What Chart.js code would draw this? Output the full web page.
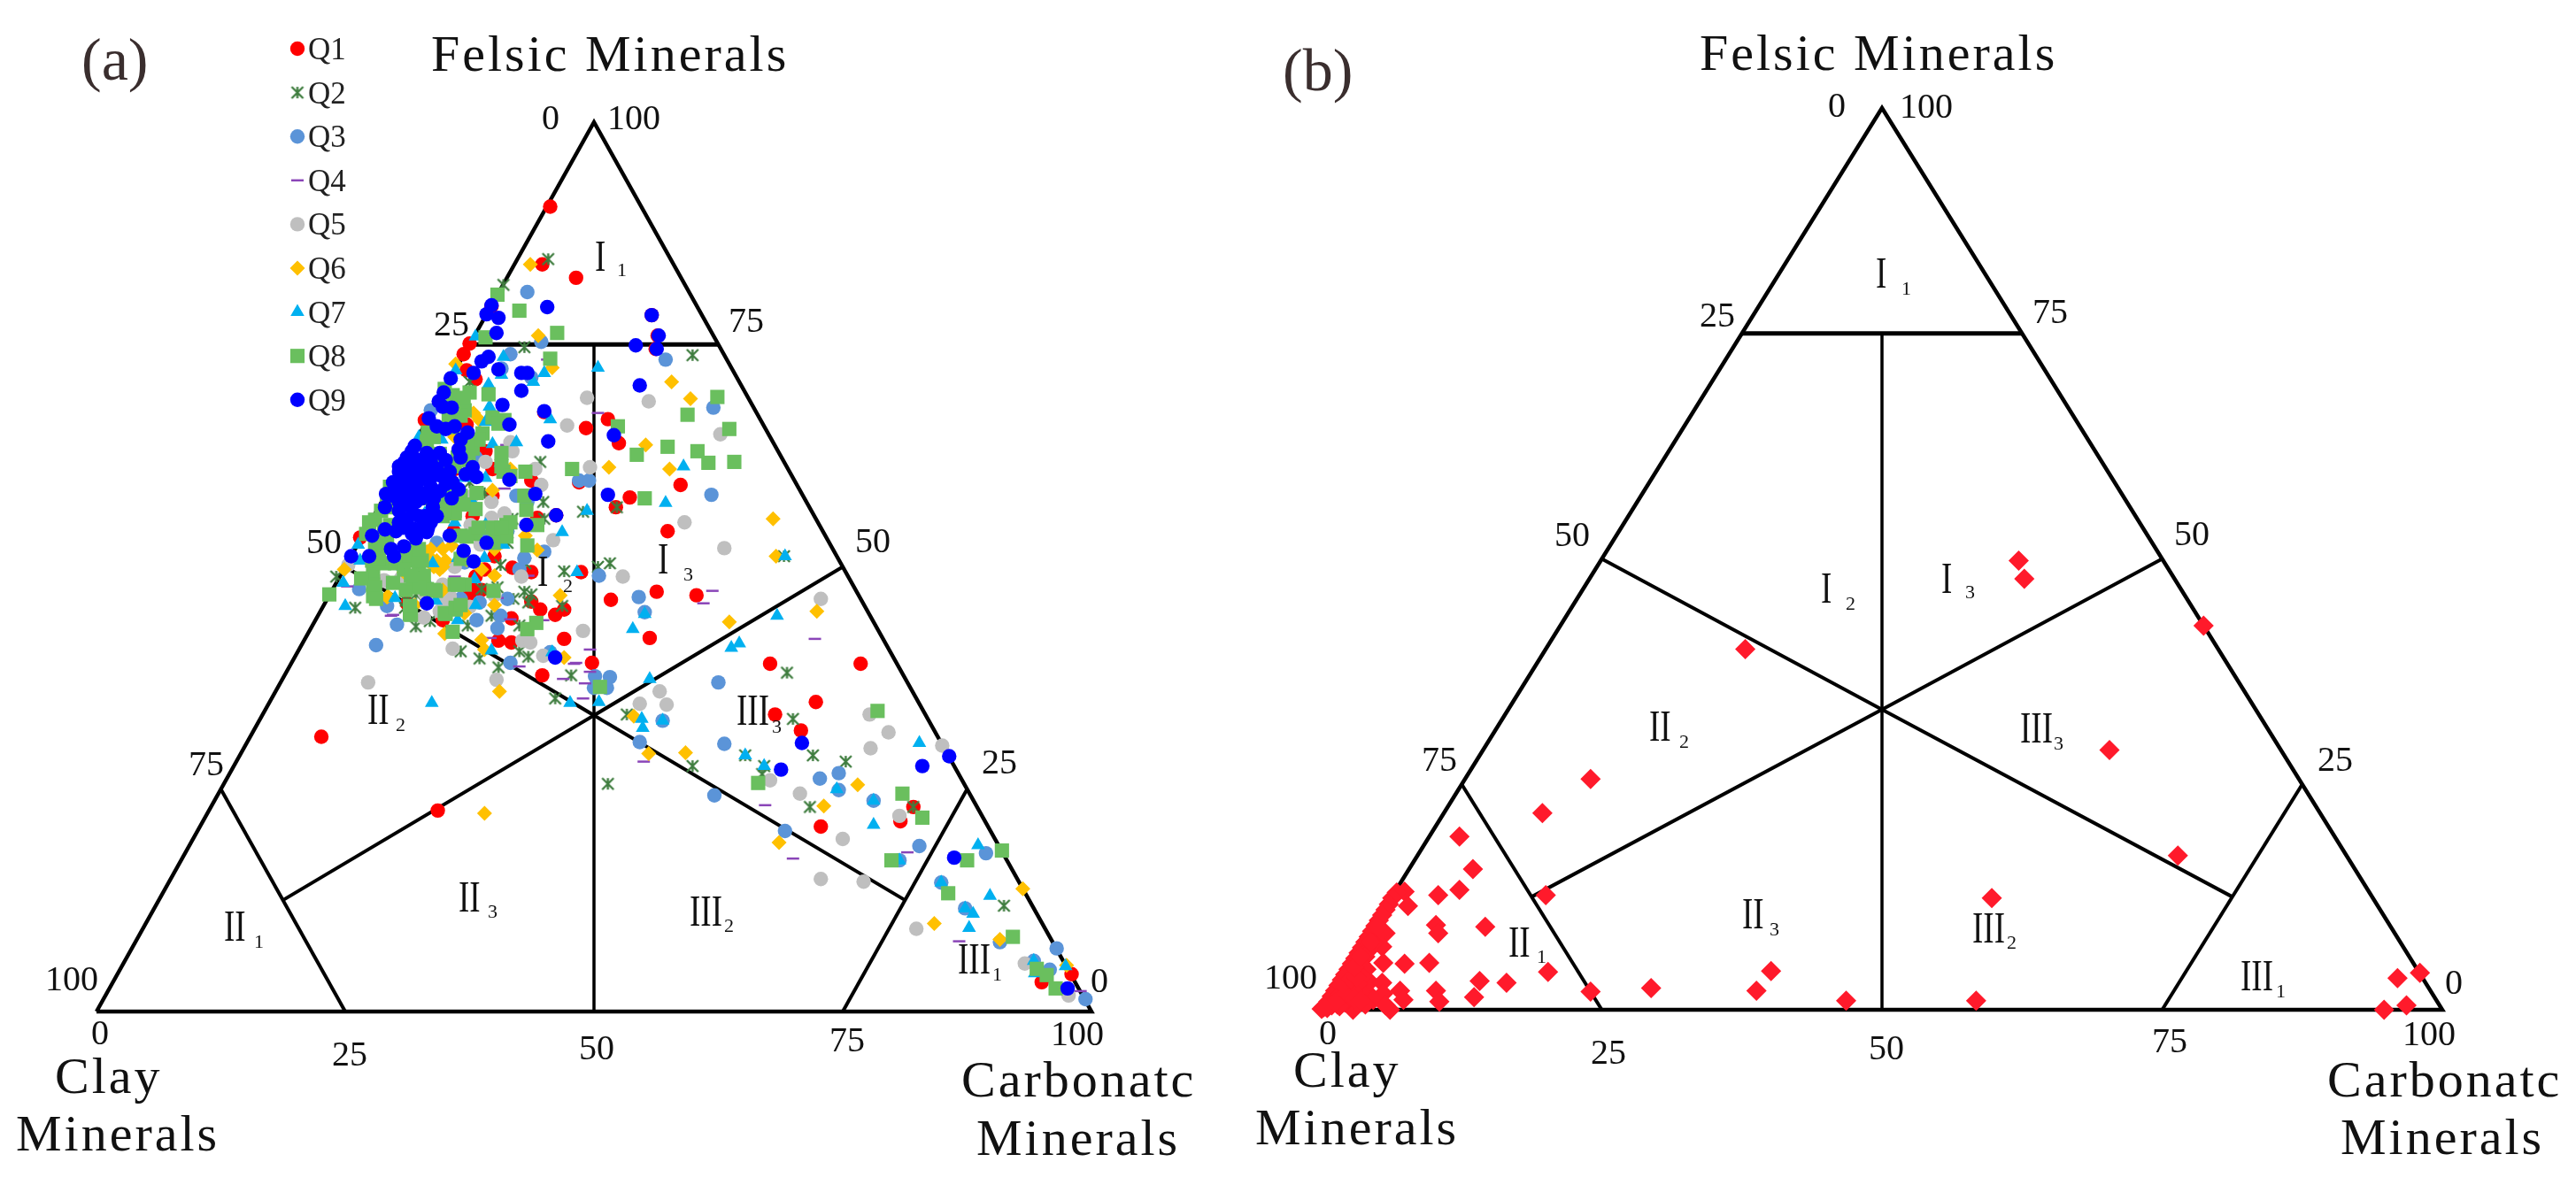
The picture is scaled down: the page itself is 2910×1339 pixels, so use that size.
<!DOCTYPE html>
<html>
<head>
<meta charset="utf-8">
<title>Ternary diagrams</title>
<script src="https://cdn.jsdelivr.net/npm/chart.js@4"></script>
<style>
  html, body { margin: 0; padding: 0; background: #fff; overflow: hidden; }
  canvas { position: absolute; left: 0; top: 0; }
</style>
</head>
<body>
<canvas id="chart-a" width="2910" height="1339"></canvas>
<canvas id="chart-b" width="2910" height="1339"></canvas>
<script>
// Ternary values.
// Each pair is [position along the base, felsic %], position = carbonate % + felsic % / 2
const seriesNames = ['Q1', 'Q2', 'Q3', 'Q4', 'Q5', 'Q6', 'Q7', 'Q8', 'Q9'];

const q1 = [[45.6,90.5],[44.8,84],[48.2,82.5],[39.7,79.3],[55.8,78.3],[56.4,76],[56.2,74.5],[37.5,75.1],[36.9,73.9],[37.2,72.1],[38.1,71.1],[45,67.4],[49.2,65.6],[51.4,66.6],[52.5,63.9],[53.6,57.8],[52.2,56.7],[48.5,59.5],[58.7,59.2],[57.4,54],[56.3,47.2],[51.7,46.3],[60.3,46.8],[48.7,49.4],[46.2,55.8],[44.3,55.5],[43.3,54.7],[43.7,59.7],[39.8,61],[39.1,63],[37.2,66],[41.8,49.9],[43.7,49.4],[43.7,46.1],[44.6,45.2],[46.1,44.6],[47,45.2],[38.1,48.9],[37.8,47.4],[31.2,45.9],[26.5,53.3],[37.8,55.7],[39.8,58],[35.9,54],[39,49.7],[36,61],[33,66.5],[22.6,30.9],[47,41.9],[49.8,39.2],[44.8,37.8],[40.4,41.7],[41.7,41.5],[41.7,44.2],[40,51.2],[34.8,44],[38.7,47.4],[37.5,47],[34.3,22.6],[55.6,42],[67.7,39.1],[76.8,39.1],[72.3,34.8],[68.2,33.4],[70.8,31.6],[82.1,23],[80.8,21.4],[72.8,20.8],[98,4.2],[95,3.3]];

const q2 = [[45.4,84.6],[40.9,81.7],[43,74.7],[59.9,73.8],[37.5,70.8],[44.6,61.8],[44.9,57.3],[48.9,56.2],[45,55.4],[50.4,50],[51.6,50.4],[47,49.5],[41.8,55.4],[40.6,50.2],[40.3,47.7],[38.7,47.5],[43,47.2],[41.9,46.4],[43.7,46.9],[46.8,45.6],[26,45.4],[24.1,48.9],[32.1,46.9],[31.1,46.2],[52.3,56.7],[37.5,59.5],[39,58.3],[41.3,52.7],[43.1,50.4],[33.5,43.9],[32.1,43.3],[37.3,43.4],[39.7,44.5],[42.5,43.4],[43.4,46],[36.6,40.5],[38.5,39.7],[40.4,38.7],[42.5,40.5],[43.4,39.9],[46.1,35.2],[47.7,37.8],[51.4,25.6],[53.3,33.4],[31,45.4],[69.4,38.1],[70,32.9],[72,28.8],[75.3,28.1],[65.2,28.8],[67.1,27.6],[69.1,51.2],[66.9,26.7],[59.9,27.6],[71.7,23],[82.1,23],[91.2,11.9]];

const q3 = [[43.3,80.9],[44.7,75.3],[41.6,73.9],[40.7,72.3],[43.7,71.3],[57.2,73.3],[62,67.9],[48.5,59.7],[49.5,59.7],[43.3,57.3],[42.2,58],[45,51.7],[41.3,54],[42.5,49.7],[50.5,49],[54.5,46.6],[55.1,44.9],[41.3,46.4],[29.2,45.6],[26.4,47.5],[37.8,63],[33.6,67.6],[38.1,62.3],[39.5,53.5],[37,50.5],[33,48],[38.5,46],[43,51],[61.8,58.1],[30.2,43.5],[28.1,41.2],[38.2,44],[40.6,44.5],[40.3,43.1],[41.6,39.2],[50.1,37.7],[51.6,37.6],[50,36.4],[51.3,36.4],[45.6,40.4],[36.6,46.4],[34.2,52.7],[62.5,37],[54.6,30.3],[56.9,32.7],[63.1,30.1],[62.1,24.3],[69.2,20.3],[72.7,26.2],[74.6,26.8],[74.6,24.9],[78.1,23.7],[82.7,18.6],[80.7,17],[89.4,17.8],[84.9,14.5],[87.3,11.6],[90.8,7.8],[96.5,7.1],[94.2,5.7],[95.8,4.7],[99.4,1.4]];

const q4 = [[61.9,47.3],[61,45.9],[72.2,41.9],[49.6,40.7],[48,39.1],[49.6,38.2],[46.9,37.4],[49.1,36.9],[48.9,35.2],[55,28.1],[67.2,23.2],[70,17.2],[81.5,17.9],[86.7,7.9],[98.9,2.3],[50.4,67.3],[45.3,73.3],[41.2,63.7],[43.4,49],[40.3,46.5],[29.8,44.6],[41,58.8],[32.1,47.7],[41.6,44.1],[44.9,44],[39.6,42],[42.5,38.8],[48.2,39.2],[29.6,44.5],[25.2,47.8],[36,48.9]];

const q5 = [[49.3,69],[55.5,68.6],[47.3,65.9],[41.6,64],[39.1,61.8],[44.1,61],[49.6,61.2],[44.7,59.2],[39.7,57.3],[39.7,55.5],[37.6,54.7],[45.9,53],[59.1,55],[52.9,48.9],[42.7,48.9],[36,50],[37.8,58],[41.8,63],[35.5,46.7],[28.9,48.5],[25.3,50.2],[32.9,44.3],[34.8,48],[35.4,47.7],[34.8,46.1],[30.6,48.7],[41,56],[38.6,52.5],[33,47],[40,46.8],[62.7,64.9],[63.1,52.1],[72.8,46.4],[35.8,40.8],[42.8,41.7],[43.6,41.5],[44.9,40],[40.2,37.3],[48.9,42.8],[27.3,37],[37.5,45.5],[34.5,45],[29,48.4],[56.6,36],[54.6,34.6],[57.3,34.5],[77.7,33.4],[79.6,31.4],[77.8,29.6],[85,29.9],[67.7,26],[70.7,24.5],[80.7,22],[75,19.4],[72.8,14.9],[77.1,14.6],[82.4,9.3],[93.3,5.4],[97.7,1.8]];

const q6 = [[44.4,76],[45.8,72.4],[57.8,70.8],[59.7,68.9],[37.9,67.3],[38.5,66.5],[36.1,72.8],[55.2,63.7],[51.5,61.2],[57.6,61],[36,64.6],[41.6,61],[39.8,58.6],[43.1,53.5],[44.3,51.9],[40,49],[38.7,49.7],[46.6,46.8],[40,45.7],[24.9,49.7],[34.8,47.4],[29.3,46.7],[33.6,52],[34.2,50.7],[34.8,50],[30.9,49.4],[35.2,59.3],[35.1,50.7],[35.7,52.4],[33.6,51],[34.5,49.7],[34.8,52],[33.2,51.7],[33.9,50],[37.2,50.8],[40,52],[37,44.8],[32,45.7],[43.6,84],[68,55.4],[68.3,51.2],[72.4,45],[40.5,36],[47,39.8],[38.7,41.8],[39,40.7],[35,42.5],[29.2,46.6],[39,22.3],[63.6,43.8],[54,33.2],[55.5,29],[59.2,29.1],[73.1,23.1],[76.5,25.5],[68.6,19],[93.1,13.8],[84.2,9.9],[90.8,8.1],[97.5,5.2]];

const q7 = [[38.1,75.9],[40.9,73.6],[50.4,72.4],[40.7,71.6],[45,71.8],[43.9,70.8],[36.1,72.1],[39.4,70.5],[39.5,68],[45.6,66.6],[39.1,66.3],[42.2,64],[39.8,63.8],[40.6,61.7],[59,61.3],[49.3,56.3],[57.2,57.2],[46.8,53.9],[39.1,60],[37.8,57.3],[39.1,54.7],[40.9,52.5],[39,51],[36.3,51],[33.8,50.4],[30.8,50],[48.3,49.4],[25,45.6],[24.8,48.2],[26.5,50.7],[26.3,52.5],[38.1,45.7],[34.1,46.2],[55.1,44.7],[34.7,64.3],[32.4,64.6],[37.2,65],[36,55],[33,56],[37,60],[38,48.6],[30,46.5],[69.2,51.2],[68.4,44.5],[33.7,34.7],[39.7,40.6],[36.3,44],[45.8,40.4],[53.9,43],[63.8,40.9],[64.6,41.4],[55.6,37.4],[50.5,34.8],[47.6,34.7],[54.8,32.9],[54.9,31.9],[56.9,32.7],[65.2,28.8],[67.1,27.6],[74.4,25],[82.7,30.2],[78.1,23.7],[78.1,21],[88.6,18.7],[84.9,14.5],[89.8,13],[87.3,11.6],[88.1,11],[87.7,9.4],[94.2,5.7],[97.4,5.1],[94.3,4.3],[80.7,17]];

const q8 = [[40.3,80.6],[42.5,78.8],[46.3,76.3],[39.1,75.8],[45.6,73.4],[39.4,69.4],[37.5,69.6],[35.8,69.3],[35,70],[37,67.6],[59.4,67.1],[39.8,66.8],[41,66.5],[40.4,66.1],[52.4,65.8],[33.3,65.1],[38.8,65],[33.2,64.1],[37.8,63.6],[40.7,62.8],[54.3,62.6],[57.4,63.5],[60.4,63],[61.5,61.7],[43.1,60.7],[40.9,60.7],[47.8,61],[34.1,61.5],[36.3,62.3],[43,58],[38.1,56.5],[35.5,57.3],[36,56],[33.3,57.7],[55.1,57.7],[44.3,54.7],[41.2,54.7],[40.1,53.7],[38.1,53.7],[36.6,53.5],[43.3,52.4],[28,55.3],[28.9,54],[29.5,56.7],[28.7,52.7],[28.4,51.4],[31.2,52],[31.8,50.7],[32.4,49.4],[32.9,49],[31.1,47.4],[29.8,48.2],[27.8,49.4],[27.8,48],[27.8,46.7],[26.6,48.7],[23.4,46.9],[33.2,47.5],[36,48],[37,48],[36.1,45.2],[35.1,44.7],[31.5,44.7],[30.4,56.7],[30.1,57.7],[36,57.7],[34.5,61.3],[30.9,51],[33,55],[34.8,57.7],[29.5,54.7],[62.4,69.1],[63.6,65.5],[64.1,61.8],[31.6,44.6],[35.8,42.7],[35,44.8],[36.1,45.4],[43.3,43],[44.2,43.7],[50.6,36.5],[78.5,33.8],[66.5,25.7],[81,24.5],[83,21.8],[79.9,17],[87.5,17],[91,18.1],[85.6,13.3],[92.1,8.4],[94.5,4.8],[95.5,4.1],[96.4,2.6],
  [27.4,55],[28.6,56.3],[27.1,53.7],[28,52.4],[29.2,53],[27.7,50.7],[28.9,50.4],[30,50.4],[30.9,49.7],[31.8,48.7],[32.7,50.7],[32.4,52],[34.8,55.7],[36,56.3],[36.6,58],[35.4,58.7],[36.9,57],[34.2,61],[33.6,61.6],[36,61.3],[34.5,62.7],[37.8,63.3],[38.4,64.3],[37.2,64],[36.6,67],[36.9,69],[35.4,66.6],[33.9,64.6],[29.5,59],[29.2,57.3],[37.2,53.4],[38.4,54.4],[39.8,54.4],[41.2,53.4],[41.6,55],[40.7,54.4],[40.7,61.3],[28,47.7],[28.1,46.4],[32.4,47.7],[31.5,45.6],[36.3,48],[36.6,45.7],[33.9,47.4],
  [41.6,60.2],[43.2,56.4],[38.2,58.3],[39.9,52.7],[34.9,56.4],[36.6,50.9],[31.6,49],[28.3,50.9],[34.1,47.3],[39.9,47.3],[37.4,62],[35.8,65.7]];

const q9 = [[39.7,79.4],[39.2,78.4],[40.4,78],[40.2,76.3],[45.3,79.2],[55.8,78.3],[56.5,76],[56.3,74.5],[54.2,74.9],[39.4,73.6],[38.7,73.1],[40.4,72.2],[37.9,71.8],[42.7,71.8],[43.3,71.8],[35.6,71.2],[54.6,70.4],[42.7,69.8],[34.9,69.6],[34.4,68.6],[34.8,68],[35.7,67.9],[33.4,66.7],[40.8,68.2],[45,67.5],[41.5,66],[34.2,65.8],[35.1,65.5],[36,65.8],[45.4,64.1],[52,64.8],[37.3,65.1],[36.6,64.3],[36.4,63.2],[36.6,62.3],[32,63.6],[31.7,63],[33.2,62.8],[34.5,62.8],[30.9,61.7],[31.8,61.3],[30.4,60.7],[31.2,60.3],[29.8,59.5],[32.4,59.7],[33.6,60],[34.5,60.3],[35.5,60.7],[37.8,61.2],[37.1,60.4],[38.2,60.1],[35.8,59.5],[36.4,58.7],[35.7,57.7],[34.5,58.5],[33.6,59],[31.8,58.3],[30.9,57.7],[29.1,58.2],[29,56.7],[30.4,57.3],[31.2,57],[32.1,59],[33.8,56.7],[34.2,55.7],[33.6,55],[32.4,55.7],[31.2,55.4],[30.4,55],[30.1,54],[31.8,54.3],[32.1,53.2],[33.3,54.3],[29,54.2],[27.7,53.5],[35.5,53.5],[29.6,52],[29.9,51.2],[30.9,52.3],[27.4,51.2],[25.6,51.2],[39.2,52.7],[36.9,51.8],[37.9,50.6],[44.1,58.2],[41.5,59.8],[43.2,54.7],[46.2,55.8],[33.2,45.9],[51.4,58.1],[29.8,58],[32.7,57.7],[32.4,60.7],[30.6,59.3],[31.5,59.3],[46.1,39.8],[70.9,30.2],[68.8,27.2],[83,27.6],[85.7,28.7],[86.2,17.3],[97.6,2.6],
  [31.2,62.3],[32.4,62],[33.6,61.8],[35.1,62],[30.4,61.3],[33,61],[34.2,61],[30.9,59.7],[33.3,60.3],[35.1,59.3],[30.1,58.3],[33,58.3],[31.2,58.7],[32.1,57.3],[33.9,57.7],[30.4,56.3],[31.8,56],[33,55.7],[30.8,54.4],[32.7,54.3],[31.7,53.7],[33.2,53.9]];

// panel (b), one series only
const samplesB = [[12.3,19.2],[13.5,15.6],[10.4,12.7],[12.3,13.3],[7.4,13.1],[7.7,11.5],[20,12.7],[14.6,9.2],[10.2,9.4],[10.4,8.5],[5.7,8.5],[5.4,7],[5.5,5.2],[7.4,5.1],[9.6,5.2],[20.2,4.2],[14.1,3.2],[16.5,3],[13.6,1.4],[10.2,2.1],[10.5,0.9],[4.3,3.1],[5.4,3],[7,2.1],[7.3,1.1],[5.5,1.8],[4.2,1.8],[6.1,0],[2.8,0],[4.6,1.1],[3.4,2.1],[2.1,0.8],[0,0.1],
  [6.7,13],[6.3,12.4],[6,11.7],[5.7,11.1],[5.4,10.5],[5.1,9.9],[4.8,9.3],[4.5,8.7],[4.2,8.1],[3.9,7.5],[3.6,6.9],[3.3,6.3],[3,5.7],[2.7,5.1],[2.4,4.5],[2.1,3.9],[1.8,3.3],[1.5,2.7],[1.2,2.1],[0.9,1.5],[0.6,0.9],[0.4,0.4],
  [4.9,8.2],[4.6,7.4],[4.2,6.6],[3.9,5.9],[3.5,5.1],[3.2,4.4],[2.8,3.6],[2.5,2.9],[2.1,2.1],[1.8,1.4],[1.4,0.6],
  [4,4.5],[3.6,3.7],[3.2,2.9],[2.8,2.1],[2.4,1.3],[3.9,0.6],
  [1.3,1.2],[2,1.6],[0.5,0.2],[0.9,0.5],[1.6,0.4],[2.9,1.2],[3.5,1],[1.9,2.9],[2.6,3.4],[3.1,3.6],[2.9,4.7],[3.5,5.9],[4.4,7.5],[5,9.2],[1.2,0.8],[0.2,0.3],[5.7,0.5],
  [24,25.6],[19.7,21.8],[62.2,49.8],[62.7,47.8],[78.7,42.6],[37.8,40],[70.3,28.8],[76.4,17.1],[59.8,12.4],[24,2],[29.4,2.4],[40.1,4.3],[38.8,2.1],[46.8,1],[58.4,1],[98,4.1],[96,3.5],[96.8,0.5],[94.8,0]];

// diagram frame and field boundaries, same units as the samples
const boundaries = [
  [[0,0],[100,0],[50,100],[0,0]],
  [[37.5,75],[62.5,75]],
  [[50,75],[50,0]],
  [[25,50],[50,33.3],[75,50]],
  [[18.7,12.5],[50,33.3],[81.3,12.5]],
  [[25,0],[12.5,25]],
  [[75,0],[87.5,25]]
];
const boundaryWidths = [4.5, 5, 3.5, 4, 4, 4, 4];

// [text, left, baseline]
const tickLabelsA = [['0',612,146],['100',686,146],['25',490,379],['75',823,375],['50',346,625],['50',966,624],['75',213,876],['25',1109,874],['100',51,1119],['0',1232,1121],['0',103,1180],['25',375,1204],['50',654,1197],['75',937,1188],['100',1187,1181]];
const tickLabelsB = [['0',2065,132],['100',2146,133],['25',1920,369],['75',2296,365],['50',1756,617],['50',2456,616],['75',1606,871],['25',2618,871],['100',1428,1117],['0',2762,1123],['0',1490,1180],['25',1797,1202],['50',2111,1197],['75',2431,1189],['100',2714,1181]];
const titlesA = [['Felsic Minerals',487,80],['Clay',62,1235],['Minerals',18,1300],['Carbonatc',1086,1239],['Minerals',1103,1305]];
const titlesB = [['Felsic Minerals',1920,79],['Clay',1461,1228],['Minerals',1418,1293],['Carbonatc',2629,1239],['Minerals',2644,1304]];
// [field, index, left, baseline, index left, index baseline]
const fieldsA = [['I','1',672,306,697,312],['I','2',607,662,636,669],['I','3',743,648,772,656],['II','1',253,1063,287,1071],['II','2',415,818,447,826],['II','3',518,1030,551,1037],['III','1',1082,1100,1121,1108],['III','2',779,1046,818,1053],['III','3',832,819,872,828]];
const fieldsB = [['I','1',2119,325,2148,333],['I','2',2057,681,2085,689],['I','3',2193,670,2220,676],['II','1',1704,1081,1736,1088],['II','2',1863,837,1897,845],['II','3',1968,1049,1999,1057],['III','1',2531,1119,2571,1127],['III','2',2228,1065,2267,1072],['III','3',2282,839,2320,847]];

const SERIF = '"Liberation Serif", "Times New Roman", serif';

// Excel style star marker, chart.js has none like it
function starMarker() {
  const c = document.createElement('canvas');
  c.width = 19; c.height = 19;
  const g = c.getContext('2d');
  g.strokeStyle = '#3f7d3f';
  g.lineWidth = 2.4;
  g.beginPath();
  g.moveTo(3, 3); g.lineTo(16, 16);
  g.moveTo(16, 3); g.lineTo(3, 16);
  g.moveTo(9.5, 3); g.lineTo(9.5, 16);
  g.stroke();
  return c;
}

const seriesStyles = [
  { pointStyle: 'circle', pointRadius: 8.2, pointBackgroundColor: '#ff0000', pointBorderWidth: 0 },
  { pointStyle: starMarker(), pointRadius: 9, pointBackgroundColor: '#3f7d3f', pointBorderWidth: 0 },
  { pointStyle: 'circle', pointRadius: 8.2, pointBackgroundColor: '#5b94d8', pointBorderWidth: 0 },
  { pointStyle: 'line', pointRadius: 7, pointBorderColor: '#8a45b8', pointBorderWidth: 2.5 },
  { pointStyle: 'circle', pointRadius: 8.2, pointBackgroundColor: '#bfbfbf', pointBorderWidth: 0 },
  { pointStyle: 'rectRot', pointRadius: 8.5, pointBackgroundColor: '#ffc000', pointBorderWidth: 0 },
  { pointStyle: 'triangle', pointRadius: 9, pointBackgroundColor: '#00b0f0', pointBorderWidth: 0 },
  { pointStyle: 'rect', pointRadius: 11.4, pointBackgroundColor: '#6abf5e', pointBorderWidth: 0 },
  { pointStyle: 'circle', pointRadius: 8.2, pointBackgroundColor: '#0000ff', pointBorderWidth: 0 }
];

function toPoints(pairs) {
  return pairs.map(p => ({ x: p[0], y: p[1] }));
}

function boundaryDatasets() {
  return boundaries.map((line, i) => ({
    data: toPoints(line),
    showLine: true,
    borderColor: '#000',
    borderWidth: boundaryWidths[i],
    pointRadius: 0,
    tension: 0,
    clip: false,
    order: 100
  }));
}

// draws the ticks, titles, field names and the legend as plain text on top
function labelPlugin(cfg) {
  return {
    id: 'ternaryLabels',
    afterDraw(chart) {
      const ctx = chart.ctx;
      ctx.save();
      ctx.textAlign = 'left';
      ctx.textBaseline = 'alphabetic';
      ctx.fillStyle = '#111';

      ctx.font = '40px ' + SERIF;
      ctx.letterSpacing = '0px';
      cfg.ticks.forEach(t => ctx.fillText(t[0], t[1], t[2]));

      ctx.font = '58px ' + SERIF;
      ctx.letterSpacing = '3px';
      cfg.titles.forEach(t => ctx.fillText(t[0], t[1], t[2]));
      ctx.letterSpacing = '0px';

      ctx.font = '50px ' + SERIF;
      cfg.fields.forEach(f => {
        ctx.save();
        ctx.translate(f[2], f[3]);
        ctx.scale(0.74, 1);
        ctx.fillText(f[0], 0, 0);
        ctx.restore();
      });
      ctx.font = '22px ' + SERIF;
      cfg.fields.forEach(f => ctx.fillText(f[1], f[4], f[5]));

      ctx.fillStyle = '#3a2e2e';
      ctx.font = '68px ' + SERIF;
      ctx.fillText(cfg.panel[0], cfg.panel[1], cfg.panel[2]);

      if (cfg.legend) {
        seriesNames.forEach((name, i) => {
          const y = 55 + i * 49.6;
          const st = seriesStyles[i];
          ctx.fillStyle = st.pointBackgroundColor || '#000';
          ctx.strokeStyle = st.pointBorderColor || st.pointBackgroundColor;
          ctx.lineWidth = st.pointBorderWidth;
          Chart.helpers.drawPoint(ctx, {
            pointStyle: st.pointStyle,
            radius: st.pointRadius,
            rotation: 0,
            borderWidth: st.pointBorderWidth
          }, 336, y);
          ctx.fillStyle = '#222';
          ctx.font = '35px ' + SERIF;
          ctx.fillText(name, 348, y + 12);
        });
      }
      ctx.restore();
    }
  };
}

function ternaryChart(canvasId, datasets, area, cfg) {
  return new Chart(document.getElementById(canvasId), {
    type: 'scatter',
    data: { datasets: datasets.concat(boundaryDatasets()) },
    options: {
      responsive: false,
      animation: false,
      devicePixelRatio: 1,
      layout: { padding: { left: area.left, right: 2910 - area.right, top: area.top, bottom: 1339 - area.bottom } },
      scales: {
        x: { type: 'linear', min: 0, max: 100, display: false },
        y: { type: 'linear', min: 0, max: 100, display: false }
      },
      plugins: { legend: { display: false }, tooltip: { enabled: false } }
    },
    plugins: [labelPlugin(cfg)]
  });
}

const allSeries = [q1, q2, q3, q4, q5, q6, q7, q8, q9];
// first dataset is drawn on top by default, so Q9 gets the lowest order
const datasetsA = allSeries.map((values, i) => Object.assign({
  label: seriesNames[i],
  data: toPoints(values),
  clip: false,
  order: 9 - i
}, seriesStyles[i]));

const datasetsB = [{
  label: 'samples',
  data: toPoints(samplesB),
  clip: false,
  order: 1,
  pointStyle: 'rectRot',
  pointRadius: 11.5,
  pointBackgroundColor: '#ff1a2b',
  pointBorderWidth: 0
}];

ternaryChart('chart-a', datasetsA, { left: 109, right: 1233, top: 138, bottom: 1143 },
  { ticks: tickLabelsA, titles: titlesA, fields: fieldsA, panel: ['(a)', 92, 90], legend: true });
ternaryChart('chart-b', datasetsB, { left: 1493, right: 2759, top: 122, bottom: 1141 },
  { ticks: tickLabelsB, titles: titlesB, fields: fieldsB, panel: ['(b)', 1449, 102], legend: false });
</script>
</body>
</html>
